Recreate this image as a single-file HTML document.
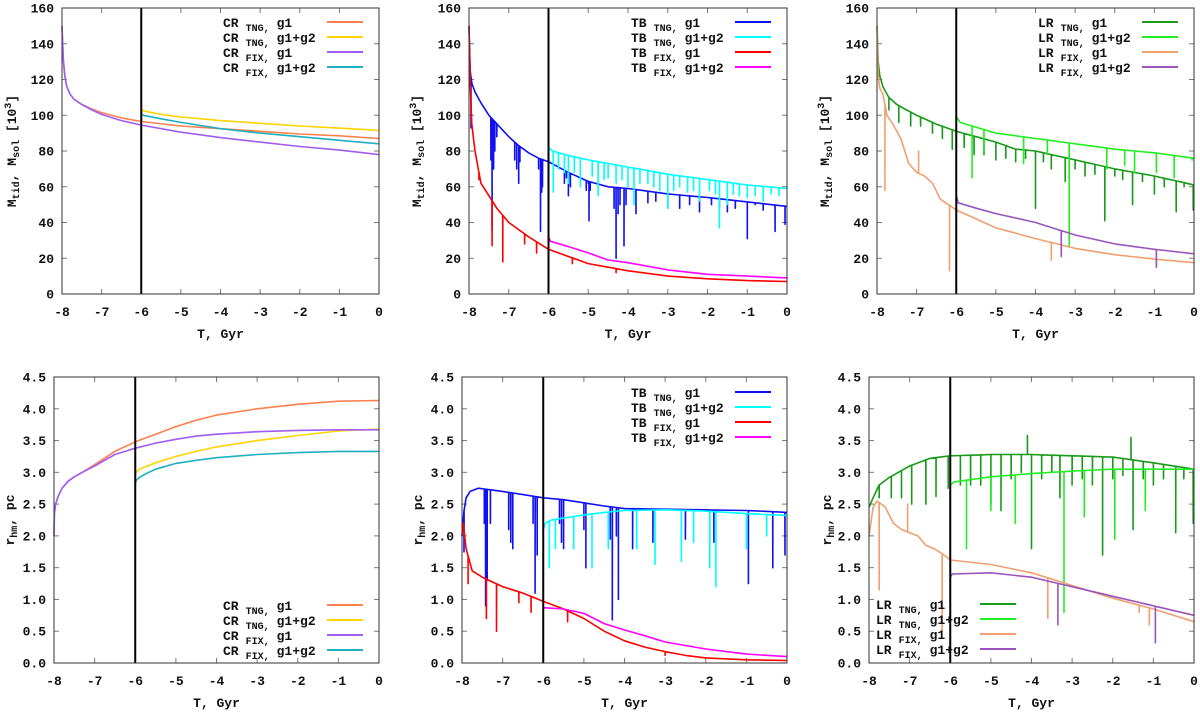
<!DOCTYPE html>
<html><head><meta charset="utf-8"><style>
html,body{margin:0;padding:0;background:#fff;}
svg{display:block;font-family:"Liberation Mono",monospace;font-weight:bold;}
</style></head><body>
<svg id="fig" width="1200" height="712" viewBox="0 0 1200 712" xmlns="http://www.w3.org/2000/svg"></svg>
<script>
// ---------- DATA ----------
const xTicks = [-8,-7,-6,-5,-4,-3,-2,-1,0];
const massTicks = [0,20,40,60,80,100,120,140,160];
const rhmTicks = [0,0.5,1.0,1.5,2.0,2.5,3.0,3.5,4.0,4.5];
const rhmTickLabels = ["0.0","0.5","1.0","1.5","2.0","2.5","3.0","3.5","4.0","4.5"];

// Top-left CR mass
const crTngG1MassT = [-8,-7.97,-7.93,-7.88,-7.8,-7.7,-7.5,-7.25,-7,-6.5,-6,-5,-4,-3,-2,-1,0];
const crTngG1MassV = [150,132,122,116,112,109,106,103.5,101.5,98.5,96.5,94,92.5,91,89.5,88.5,87];
const crFixG1MassT = [-8,-7.97,-7.93,-7.88,-7.8,-7.7,-7.5,-7.25,-7,-6.5,-6,-5,-4,-3,-2,-1,0];
const crFixG1MassV = [150,132,122,116,112,109,106,103,100.5,97,94.5,90.5,87.5,85,82.5,80.5,78];
const crTngG12MassT = [-6,-6,-5.95,-5.5,-5,-4,-3,-2,-1,0];
const crTngG12MassV = [96,104,102.5,100.5,99,97,95.5,94,92.8,91.5];
const crFixG12MassT = [-6,-6,-5.95,-5.5,-5,-4,-3,-2,-1,0];
const crFixG12MassV = [96,101,100,98,96,92.5,90,88,86,84];

// Bottom-left CR rhm
const crTngG1RhmT = [-8,-7.99,-7.96,-7.9,-7.8,-7.65,-7.5,-7.25,-7,-6.5,-6,-5.5,-5,-4.5,-4,-3,-2,-1,0];
const crTngG1RhmV = [2.0,2.35,2.5,2.62,2.75,2.86,2.93,3.02,3.12,3.33,3.48,3.6,3.72,3.82,3.9,4.0,4.07,4.12,4.13];
const crFixG1RhmT = [-8,-7.99,-7.96,-7.9,-7.8,-7.65,-7.5,-7.25,-7,-6.5,-6,-5.5,-5,-4.5,-4,-3,-2,-1,0];
const crFixG1RhmV = [2.0,2.35,2.5,2.62,2.75,2.86,2.93,3.02,3.1,3.28,3.38,3.46,3.52,3.57,3.6,3.64,3.66,3.67,3.67];
const crTngG12RhmT = [-6,-6,-5.98,-5.9,-5.7,-5.5,-5,-4.5,-4,-3,-2,-1,0];
const crTngG12RhmV = [3.45,2.95,3.0,3.05,3.1,3.15,3.25,3.33,3.4,3.5,3.58,3.65,3.68];
const crFixG12RhmT = [-6,-6,-5.98,-5.9,-5.7,-5.5,-5,-4.5,-4,-3,-2,-1,0];
const crFixG12RhmV = [3.15,2.82,2.87,2.92,2.99,3.05,3.14,3.19,3.23,3.28,3.31,3.33,3.33];

// Top-middle TB mass
const tbTngG1MassT = [-8,-7.97,-7.93,-7.85,-7.7,-7.5,-7.25,-7,-6.75,-6.5,-6.25,-6,-5.5,-5,-4.5,-4,-3.5,-3,-2,-1,0];
const tbTngG1MassV = [150,125,118,113,107,100,94,88,83,79,76,74,68,63,60,59,57.5,56,54,51.5,49];
const tbTngG1MassSpT = [-7.95,-7.45,-7.42,-7.38,-7.35,-7.3,-6.85,-6.8,-6.75,-6.72,-6.25,-6.2,-6.17,-6.15,-5.6,-5.55,-5.5,-5.45,-5.05,-5.0,-4.98,-4.95,-4.35,-4.3,-4.25,-4.2,-4.1,-4.05,-3.8,-3.5,-3.3,-3.0,-2.7,-2.45,-2.2,-1.9,-1.7,-1.5,-1.3,-1.0,-0.8,-0.6,-0.3,-0.05];
const tbTngG1MassSpV = [93,75,36,70,80,88,75,70,62,74,70,35,57,60,62,65,55,60,58,62,41,58,48,20,45,50,27,50,45,51,52,48,48,50,46,50,48,46,48,31,50,47,35,39];
const tbTngG12MassT = [-6,-5.9,-5.5,-5,-4.5,-4,-3,-2,-1,0];
const tbTngG12MassV = [82,80,77.5,75,73,71,67,64,61,59];
const tbTngG12MassSpT = [-5.88,-5.75,-5.6,-5.5,-5.35,-5.2,-4.9,-4.75,-4.6,-4.5,-4.3,-4.15,-4.0,-3.85,-3.7,-3.5,-3.35,-3.2,-3.0,-2.85,-2.7,-2.5,-2.35,-2.2,-1.95,-1.8,-1.7,-1.5,-1.35,-1.2,-1.0,-0.8,-0.6,-0.4,-0.2];
const tbTngG12MassSpV = [57,70,68,62,68,60,66,55,64,65,62,64,60,50,62,62,60,58,48,58,60,57,58,52,58,56,37,50,56,55,54,55,52,56,55];
const tbFixG1MassT = [-8,-7.97,-7.93,-7.85,-7.7,-7.5,-7.3,-7,-6.5,-6,-5.5,-5,-4.5,-4,-3,-2,-1,0];
const tbFixG1MassV = [150,118,95,80,62,55,48,40,32,25,21,17,15,13,10,8.5,7.5,7];
const tbFixG1MassSpT = [-7.75,-7.42,-7.15,-6.6,-6.3,-5.4,-4.3];
const tbFixG1MassSpV = [64,27,18,28,23,17,12];
const tbFixG12MassT = [-6,-6,-5.95,-5.5,-5,-4.5,-4,-3,-2,-1,0];
const tbFixG12MassV = [25,32,29.5,26.5,23,19,17.5,13.5,11,10,9];

// Bottom-middle TB rhm
const tbTngG1RhmT = [-8,-7.95,-7.9,-7.8,-7.6,-7,-6.5,-6,-5.5,-5,-4.5,-4,-3,-2,-1,0];
const tbTngG1RhmV = [2.0,2.4,2.6,2.7,2.75,2.7,2.65,2.6,2.57,2.52,2.47,2.43,2.42,2.41,2.4,2.37];
const tbTngG1RhmSpT = [-7.95,-7.45,-7.42,-7.38,-7.3,-6.85,-6.8,-6.75,-6.25,-6.2,-6.15,-5.6,-5.55,-5.5,-5.0,-4.95,-4.35,-4.3,-4.2,-4.15,-3.8,-3.3,-2.5,-1.8,-0.95,-0.35,-0.05];
const tbTngG1RhmSpV = [1.75,2.2,0.9,1.3,2.2,2.1,1.9,1.8,2.2,1.1,1.7,2.2,1.9,1.8,2.1,1.5,1.95,0.68,2.0,1.0,1.8,1.9,1.95,1.9,1.25,1.5,1.7];
const tbTngG12RhmT = [-6,-5.95,-5.8,-5.5,-5,-4.5,-4,-3,-2,-1,0];
const tbTngG12RhmV = [2.1,2.2,2.25,2.28,2.33,2.37,2.4,2.41,2.39,2.35,2.32];
const tbTngG12RhmSpT = [-5.85,-5.7,-5.25,-4.8,-4.4,-3.7,-3.25,-2.6,-2.3,-1.9,-1.75,-1.0,-0.5];
const tbTngG12RhmSpV = [1.5,1.8,1.8,1.5,1.8,1.8,1.55,1.6,1.9,1.5,1.2,1.8,2.0];
const tbFixG1RhmT = [-8,-7.97,-7.9,-7.75,-7.5,-7,-6.5,-6,-5.5,-5,-4.5,-4,-3.5,-3,-2.5,-2,-1,0];
const tbFixG1RhmV = [2.0,2.2,1.8,1.45,1.35,1.2,1.1,0.97,0.85,0.7,0.5,0.35,0.25,0.18,0.12,0.08,0.05,0.04];
const tbFixG1RhmSpT = [-7.85,-7.4,-7.15,-6.6,-6.3,-5.4,-3.0];
const tbFixG1RhmSpV = [1.25,0.7,0.5,0.95,0.8,0.65,0.12];
const tbFixG12RhmT = [-6,-6,-5.5,-5,-4.5,-4,-3.5,-3,-2,-1,0];
const tbFixG12RhmV = [0.97,0.87,0.85,0.78,0.62,0.52,0.43,0.33,0.22,0.14,0.1];

// Top-right LR mass
const lrTngG1MassT = [-8,-7.97,-7.93,-7.85,-7.7,-7.5,-7.3,-7,-6.5,-6,-5.5,-5,-4.5,-4,-3,-2,-1,0];
const lrTngG1MassV = [150,130,122,116,110,106,103.5,100,95,91,88,85,81,80,75,70,66,61];
const lrTngG1MassSpT = [-7.7,-7.45,-7.15,-6.9,-6.6,-6.35,-6.1,-5.8,-5.55,-5.3,-5.0,-4.75,-4.5,-4.25,-4.0,-3.8,-3.6,-3.25,-3.0,-2.75,-2.5,-2.25,-2.0,-1.8,-1.55,-1.3,-1.0,-0.75,-0.45,-0.25,-0.02];
const lrTngG1MassSpV = [103,96,94,94,90,87,81,82,78,78,75,76,74,76,48,74,70,63,70,66,67,41,66,64,50,63,56,60,46,60,47];
const lrTngG12MassT = [-6,-5.9,-5,-4,-3,-2,-1,0];
const lrTngG12MassV = [99,96,90,87,84,81,79,76];
const lrTngG12MassSpT = [-5.6,-5.3,-4.3,-3.7,-3.15,-2.2,-1.75,-1.5,-0.95,-0.5,-0.05];
const lrTngG12MassSpV = [65,80,73,78,27,70,72,68,68,65,75];
const lrFixG1MassT = [-8,-7.97,-7.93,-7.85,-7.75,-7.6,-7.4,-7.2,-7,-6.8,-6.6,-6.4,-6.2,-6,-5.5,-5,-4.5,-4,-3,-2,-1,0];
const lrFixG1MassV = [150,122,115,112,100,95,87,73,68,66,62,53,50,47,42,37,34,31,25.5,22,19.5,17.5];
const lrFixG1MassSpT = [-7.8,-6.95,-6.17,-3.6,-0.95];
const lrFixG1MassSpV = [58,80,13,19,16];
const lrFixG12MassT = [-6,-6,-5.95,-5.5,-5,-4,-3,-2,-1,0];
const lrFixG12MassV = [47,55,51,48,45,40,33,28,25,22.5];
const lrFixG12MassSpT = [-3.35,-0.95];
const lrFixG12MassSpV = [21,15];

// Bottom-right LR rhm
const lrTngG1RhmT = [-8,-7.9,-7.75,-7.5,-7,-6.5,-6,-5,-4,-3,-2,-1,0];
const lrTngG1RhmV = [2.45,2.6,2.8,2.92,3.1,3.22,3.26,3.28,3.28,3.26,3.24,3.15,3.05];
const lrTngG1RhmSpT = [-7.75,-7.45,-7.2,-6.95,-6.6,-6.35,-6.05,-5.75,-5.5,-5.25,-5.0,-4.75,-4.5,-4.25,-4.1,-4.0,-3.75,-3.5,-3.3,-3.0,-2.75,-2.5,-2.25,-2.0,-1.75,-1.55,-1.5,-1.25,-1.0,-0.75,-0.45,-0.25,-0.02];
const lrTngG1RhmSpV = [2.6,2.6,2.6,2.5,2.5,2.62,2.75,2.8,2.8,2.8,2.5,2.4,2.9,3.0,3.58,1.8,2.9,3.0,2.6,2.8,2.9,2.8,1.7,2.9,2.95,3.55,2.1,2.9,2.8,2.9,2.05,2.9,2.2];
const lrTngG12RhmT = [-6,-5.9,-5,-4,-3,-2,-1,0];
const lrTngG12RhmV = [2.8,2.85,2.93,2.98,3.02,3.05,3.05,3.05];
const lrTngG12RhmSpT = [-5.6,-5.0,-4.4,-3.2,-2.7,-1.95,-1.2];
const lrTngG12RhmSpV = [1.8,2.4,2.2,0.8,2.3,1.95,2.4];
const lrFixG1RhmT = [-8,-7.9,-7.8,-7.6,-7.4,-7.2,-7,-6.8,-6.6,-6.4,-6.2,-6,-5,-4,-3,-2,-1,0];
const lrFixG1RhmV = [2.0,2.45,2.55,2.45,2.2,2.1,2.05,2.0,1.85,1.8,1.72,1.62,1.55,1.42,1.22,1.02,0.85,0.65];
const lrFixG1RhmSpT = [-7.75,-7.05,-6.2,-3.6,-1.35,-1.1];
const lrFixG1RhmSpV = [1.15,2.5,0.5,0.7,0.8,0.6];
const lrFixG12RhmT = [-6,-6,-5.95,-5,-4,-3,-2,-1,0];
const lrFixG12RhmV = [1.62,1.35,1.4,1.42,1.35,1.2,1.05,0.9,0.75];
const lrFixG12RhmSpT = [-3.35,-0.95];
const lrFixG12RhmSpV = [0.6,0.32];

// ---------- RENDERING ----------
const NS = "http://www.w3.org/2000/svg";
const svg = document.getElementById("fig");
function mk(tag, attrs, parent){ const e=document.createElementNS(NS,tag); for(const k in attrs) e.setAttribute(k,attrs[k]); (parent||svg).appendChild(e); return e; }

function interp(ts, vs, t){
  for(let i=0;i<ts.length-1;i++){ if(t>=ts[i] && t<=ts[i+1]){ const d=ts[i+1]-ts[i]; if(d===0) return vs[i+1]; return vs[i]+(vs[i+1]-vs[i])*(t-ts[i])/d; } }
  return vs[vs.length-1];
}

function buildPts(ts, vs, spT, spV){
  const pts = ts.map((t,i)=>[t,vs[i]]);
  if(spT){ spT.forEach((t,i)=>{ const b=interp(ts,vs,t); pts.push([t-0.001,b]); pts.push([t,spV[i]]); pts.push([t+0.001,b]); }); }
  return pts.map((p,i)=>[p,i]).sort((a,b)=>a[0][0]-b[0][0]||a[1]-b[1]).map(a=>a[0]);
}

function panel(cfg){
  const g = mk("g",{});
  
  
  const {x0,x1,y0,y1,ymax} = cfg;
  const sx = t => x0 + (t+8)/8*(x1-x0);
  const sy = v => y1 - v/ymax*(y1-y0);
  const tg = mk("g",{stroke:"#7a7a7a","stroke-width":1},g);
  
  
  xTicks.forEach(t=>{ const x=sx(t); mk("line",{x1:x,x2:x,y1:y1,y2:y1-5},tg); mk("line",{x1:x,x2:x,y1:y0,y2:y0+5},tg); });
  cfg.yTicks.forEach(v=>{ const y=sy(v); mk("line",{x1:x0,x2:x0+5,y1:y,y2:y},tg); mk("line",{x1:x1,x2:x1-5,y1:y,y2:y},tg); });
  xTicks.forEach(t=>{ const tx=mk("text",{x:sx(t),y:y1+22,"text-anchor":"middle","font-size":13,fill:"#111"},g); tx.textContent=String(t);
      });
  cfg.yTicks.forEach((v,i)=>{ const tx=mk("text",{x:x0-8,y:sy(v)+4.5,"text-anchor":"end","font-size":13,fill:"#111"},g); tx.textContent=cfg.yLabels[i];
      });
  cfg.series.forEach(s=>{
    const pts = buildPts(s.t, s.v, s.spT, s.spV);
    const d = pts.map((p,i)=>(i?"L":"M")+sx(p[0]).toFixed(1)+","+sy(Math.max(0,Math.min(ymax,p[1]))).toFixed(1)).join(" ");
    const p = mk("path",{d:d,fill:"none",stroke:s.color,"stroke-width":1.6,"stroke-linejoin":"round"},g);
    
    
  });
  const vl = mk("line",{x1:sx(-6),x2:sx(-6),y1:y0,y2:y1,stroke:"#000","stroke-width":2},g);
  
  
  const fr = mk("rect",{x:x0,y:y0,width:x1-x0,height:y1-y0,fill:"none",stroke:"#333","stroke-width":1},g);
  
  
  const xt = mk("text",{x:(x0+x1)/2,y:y1+44,"text-anchor":"middle","font-size":13,fill:"#111"},g);
  xt.textContent="T, Gyr";
  
  
  const yt = mk("text",{transform:`translate(${cfg.ylx},${(y0+y1)/2}) rotate(-90)`,"text-anchor":"middle","font-size":13,fill:"#111"},g);
  
  
  cfg.yTitle.forEach(part=>{ const ts=mk("tspan",part.sub?{"font-size":10,dy:part.dy}:{"font-size":13,dy:part.dy||0},yt); ts.textContent=part.s; });
  const lg = mk("g",{},g);
  
  
  cfg.series.forEach((s,i)=>{
    const by = cfg.legY + i*15;
    const e = mk("g",{},lg);
    
    
    const tx = mk("text",{x:cfg.legX,y:by,"font-size":13,fill:"#111"},e);
    const a=mk("tspan",{},tx); a.textContent=cfg.prefix;
    const b=mk("tspan",{"font-size":10,dy:4,dx:7}, tx); b.textContent=s.sub+",";
    const c=mk("tspan",{"font-size":13,dy:-4,dx:7}, tx); c.textContent=s.g;
    mk("line",{x1:cfg.legX+104,x2:cfg.legX+140,y1:by-5,y2:by-5,stroke:s.color,"stroke-width":2},e);
  });
}

const massTitle = [{s:"M"},{s:"tid",sub:1,dy:3},{s:", M",dy:-3},{s:"sol",sub:1,dy:3},{s:" [10",dy:-3},{s:"3",sub:1,dy:-5},{s:"]",dy:5}];
const rhmTitle = [{s:"r"},{s:"hm",sub:1,dy:3},{s:", pc",dy:-3}];
const massLabels = massTicks.map(String);

panel({name:"panel-cr-mass",x0:62,x1:379,y0:8,y1:294,ymax:160,yTicks:massTicks,yLabels:massLabels,yTitle:massTitle,ylx:16,prefix:"CR",legX:223,legY:27,
 series:[
  {name:"line-cr-tng-g1",sub:"TNG",g:"g1",color:"#ff7f4f",t:crTngG1MassT,v:crTngG1MassV},
  {name:"line-cr-tng-g1g2",sub:"TNG",g:"g1+g2",color:"#ffd400",t:crTngG12MassT,v:crTngG12MassV},
  {name:"line-cr-fix-g1",sub:"FIX",g:"g1",color:"#a05cf5",t:crFixG1MassT,v:crFixG1MassV},
  {name:"line-cr-fix-g1g2",sub:"FIX",g:"g1+g2",color:"#1fb0bf",t:crFixG12MassT,v:crFixG12MassV}]});

panel({name:"panel-tb-mass",x0:469,x1:787,y0:8,y1:294,ymax:160,yTicks:massTicks,yLabels:massLabels,yTitle:massTitle,ylx:421,prefix:"TB",legX:631,legY:27,
 series:[
  {name:"line-tb-tng-g1",sub:"TNG",g:"g1",color:"#1010f0",t:tbTngG1MassT,v:tbTngG1MassV,spT:tbTngG1MassSpT,spV:tbTngG1MassSpV},
  {name:"line-tb-tng-g1g2",sub:"TNG",g:"g1+g2",color:"#00ffff",t:tbTngG12MassT,v:tbTngG12MassV,spT:tbTngG12MassSpT,spV:tbTngG12MassSpV},
  {name:"line-tb-fix-g1",sub:"FIX",g:"g1",color:"#ff0000",t:tbFixG1MassT,v:tbFixG1MassV,spT:tbFixG1MassSpT,spV:tbFixG1MassSpV},
  {name:"line-tb-fix-g1g2",sub:"FIX",g:"g1+g2",color:"#ff00ff",t:tbFixG12MassT,v:tbFixG12MassV}]});

panel({name:"panel-lr-mass",x0:877,x1:1194,y0:8,y1:294,ymax:160,yTicks:massTicks,yLabels:massLabels,yTitle:massTitle,ylx:829,prefix:"LR",legX:1038,legY:27,
 series:[
  {name:"line-lr-tng-g1",sub:"TNG",g:"g1",color:"#1a9a1a",t:lrTngG1MassT,v:lrTngG1MassV,spT:lrTngG1MassSpT,spV:lrTngG1MassSpV},
  {name:"line-lr-tng-g1g2",sub:"TNG",g:"g1+g2",color:"#22ee22",t:lrTngG12MassT,v:lrTngG12MassV,spT:lrTngG12MassSpT,spV:lrTngG12MassSpV},
  {name:"line-lr-fix-g1",sub:"FIX",g:"g1",color:"#f0a070",t:lrFixG1MassT,v:lrFixG1MassV,spT:lrFixG1MassSpT,spV:lrFixG1MassSpV},
  {name:"line-lr-fix-g1g2",sub:"FIX",g:"g1+g2",color:"#9955bb",t:lrFixG12MassT,v:lrFixG12MassV,spT:lrFixG12MassSpT,spV:lrFixG12MassSpV}]});

panel({name:"panel-cr-rhm",x0:54,x1:379,y0:377,y1:663,ymax:4.5,yTicks:rhmTicks,yLabels:rhmTickLabels,yTitle:rhmTitle,ylx:14,prefix:"CR",legX:223,legY:610,
 series:[
  {name:"line-cr-tng-g1",sub:"TNG",g:"g1",color:"#ff7f4f",t:crTngG1RhmT,v:crTngG1RhmV},
  {name:"line-cr-tng-g1g2",sub:"TNG",g:"g1+g2",color:"#ffd400",t:crTngG12RhmT,v:crTngG12RhmV},
  {name:"line-cr-fix-g1",sub:"FIX",g:"g1",color:"#a05cf5",t:crFixG1RhmT,v:crFixG1RhmV},
  {name:"line-cr-fix-g1g2",sub:"FIX",g:"g1+g2",color:"#1fb0bf",t:crFixG12RhmT,v:crFixG12RhmV}]});

panel({name:"panel-tb-rhm",x0:462,x1:787,y0:377,y1:663,ymax:4.5,yTicks:rhmTicks,yLabels:rhmTickLabels,yTitle:rhmTitle,ylx:422,prefix:"TB",legX:631,legY:397,
 series:[
  {name:"line-tb-tng-g1",sub:"TNG",g:"g1",color:"#1010f0",t:tbTngG1RhmT,v:tbTngG1RhmV,spT:tbTngG1RhmSpT,spV:tbTngG1RhmSpV},
  {name:"line-tb-tng-g1g2",sub:"TNG",g:"g1+g2",color:"#00ffff",t:tbTngG12RhmT,v:tbTngG12RhmV,spT:tbTngG12RhmSpT,spV:tbTngG12RhmSpV},
  {name:"line-tb-fix-g1",sub:"FIX",g:"g1",color:"#ff0000",t:tbFixG1RhmT,v:tbFixG1RhmV,spT:tbFixG1RhmSpT,spV:tbFixG1RhmSpV},
  {name:"line-tb-fix-g1g2",sub:"FIX",g:"g1+g2",color:"#ff00ff",t:tbFixG12RhmT,v:tbFixG12RhmV}]});

panel({name:"panel-lr-rhm",x0:869,x1:1194,y0:377,y1:663,ymax:4.5,yTicks:rhmTicks,yLabels:rhmTickLabels,yTitle:rhmTitle,ylx:831,prefix:"LR",legX:876,legY:609,
 series:[
  {name:"line-lr-tng-g1",sub:"TNG",g:"g1",color:"#1a9a1a",t:lrTngG1RhmT,v:lrTngG1RhmV,spT:lrTngG1RhmSpT,spV:lrTngG1RhmSpV},
  {name:"line-lr-tng-g1g2",sub:"TNG",g:"g1+g2",color:"#22ee22",t:lrTngG12RhmT,v:lrTngG12RhmV,spT:lrTngG12RhmSpT,spV:lrTngG12RhmSpV},
  {name:"line-lr-fix-g1",sub:"FIX",g:"g1",color:"#f0a070",t:lrFixG1RhmT,v:lrFixG1RhmV,spT:lrFixG1RhmSpT,spV:lrFixG1RhmSpV},
  {name:"line-lr-fix-g1g2",sub:"FIX",g:"g1+g2",color:"#9955bb",t:lrFixG12RhmT,v:lrFixG12RhmV,spT:lrFixG12RhmSpT,spV:lrFixG12RhmSpV}]});
</script>
</body></html>
